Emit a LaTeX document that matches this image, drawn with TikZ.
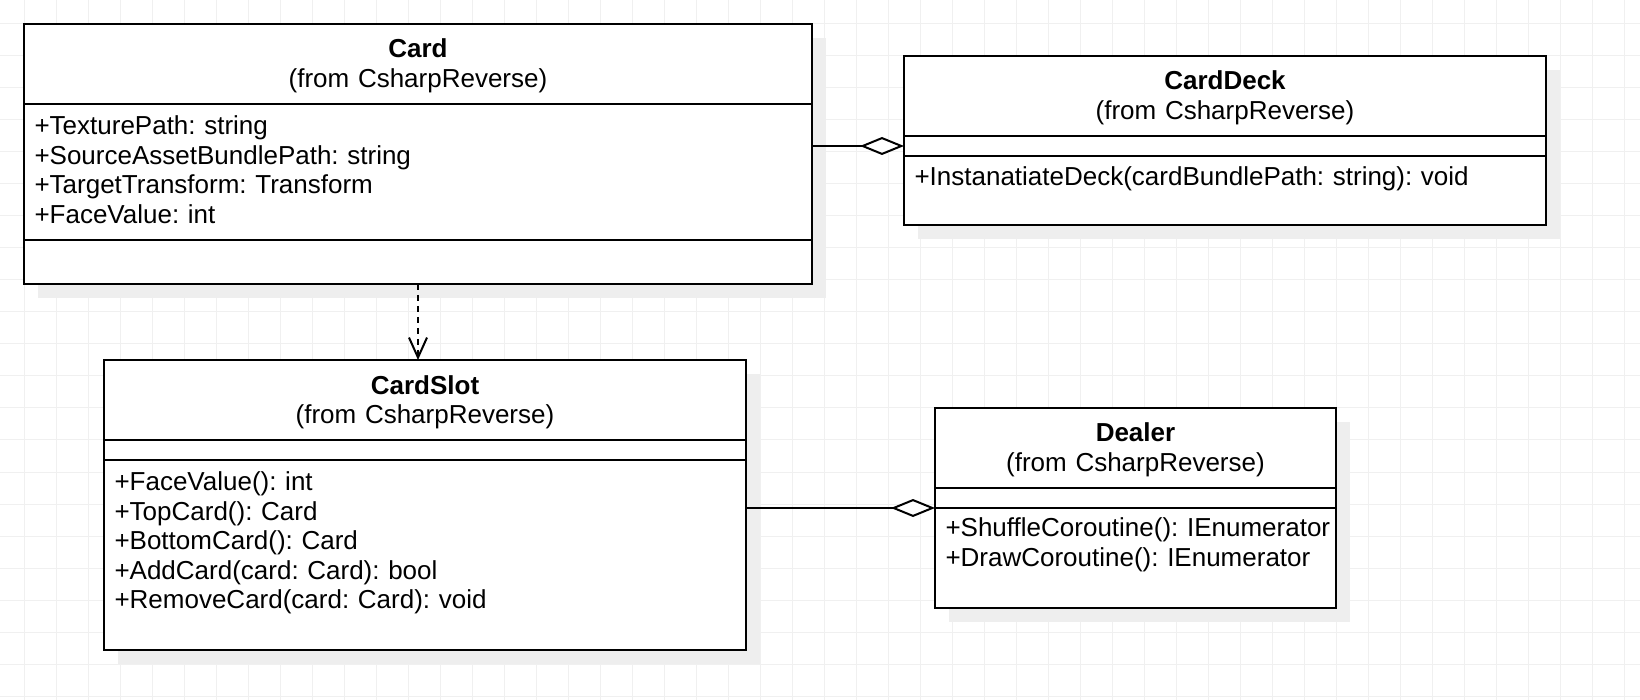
\documentclass[tikz,border=0pt]{standalone}
\usepackage{fontspec}
\setmainfont{Liberation Sans}
\frenchspacing
\hyphenpenalty=10000
\usepackage{tikz}
\usetikzlibrary{arrows.meta, positioning, shadows}
\definecolor{gridgray}{HTML}{F0F0F0}
\definecolor{shadowgray}{HTML}{EEEEEE}

\begin{document}
\begin{tikzpicture}[
        x=0.5pt, y=-0.5pt,
        gridline/.style={draw=gridgray, line width=0.5pt},
        umlpart/.style={rectangle, draw, fill=white, line width=1pt, outer sep=0pt, inner xsep=5.25pt, inner ysep=0pt, text width=#1, align=left, font=\fontsize{13pt}{14.75pt}\selectfont, drop shadow={shadow xshift=7pt, shadow yshift=-7pt, fill=shadowgray, opacity=1}},
        umlhead/.style={umlpart=#1, align=center, text height=17pt, text depth=23pt, anchor=north west},
        aggr/.style={-{Diamond[length=22pt, width=9pt, fill=white]}, line width=1pt},
        depend/.style={-{Straight Barb[length=10pt, width=9pt]}, dash pattern=on 3pt off 2.5pt, line width=1pt}
    ]

    \useasboundingbox (0,0) rectangle (1640,700);
    \fill[white] (0,0) rectangle (1640,700);
    \foreach \gx in {24,56,...,1640} \draw[gridline] (\gx,0) -- (\gx,700);
    \foreach \gy in {24,56,...,700} \draw[gridline] (0,\gy) -- (1640,\gy);

    % Card
    \node[umlhead=383.5pt] (card) at (24,24) {\textbf{Card}\\(from CsharpReverse)};
    \node[umlpart=383.5pt, text height=15.5pt, text depth=52.5pt, below=0pt of card] (card-attr) {+TexturePath: string\\+SourceAssetBundlePath: string\\+TargetTransform: Transform\\+FaceValue: int};
    \node[umlpart=383.5pt, text height=22pt, text depth=0pt, below=0pt of card-attr] (card-ops) {};

    % CardDeck
    \node[umlhead=310.5pt] (deck) at (904,56) {\textbf{CardDeck}\\(from CsharpReverse)};
    \node[umlpart=310.5pt, text height=10pt, text depth=0pt, below=0pt of deck] (deck-attr) {};
    \node[umlpart=310.5pt, text height=15pt, text depth=19.5pt, below=0pt of deck-attr] (deck-ops) {+InstanatiateDeck(cardBundlePath: string): void};

    % CardSlot
    \node[umlhead=310.5pt] (slot) at (104,360) {\textbf{CardSlot}\\(from CsharpReverse)};
    \node[umlpart=310.5pt, text height=10pt, text depth=0pt, below=0pt of slot] (slot-attr) {};
    \node[umlpart=310.5pt, text height=15.25pt, text depth=79.75pt, below=0pt of slot-attr] (slot-ops) {+FaceValue(): int\\+TopCard(): Card\\+BottomCard(): Card\\+AddCard(card: Card): bool\\+RemoveCard(card: Card): void};

    % Dealer
    \node[umlhead=190pt] (dealer) at (935,408) {\textbf{Dealer}\\(from CsharpReverse)};
    \node[umlpart=190pt, text height=10pt, text depth=0pt, below=0pt of dealer] (dealer-attr) {};
    \node[umlpart=190pt, text height=14.5pt, text depth=35.5pt, below=0pt of dealer-attr] (dealer-ops) {+ShuffleCoroutine():~IEnumerator\\+DrawCoroutine(): IEnumerator};

    \draw[aggr] (card-attr.east |- deck-attr.west) -- (deck-attr.west);
    \draw[aggr] (slot-ops.east |- dealer-ops.north west) -- (dealer-ops.north west);
    \draw[depend] (card-ops.south) -- (card-ops.south |- slot.north);
\end{tikzpicture}
\end{document}
